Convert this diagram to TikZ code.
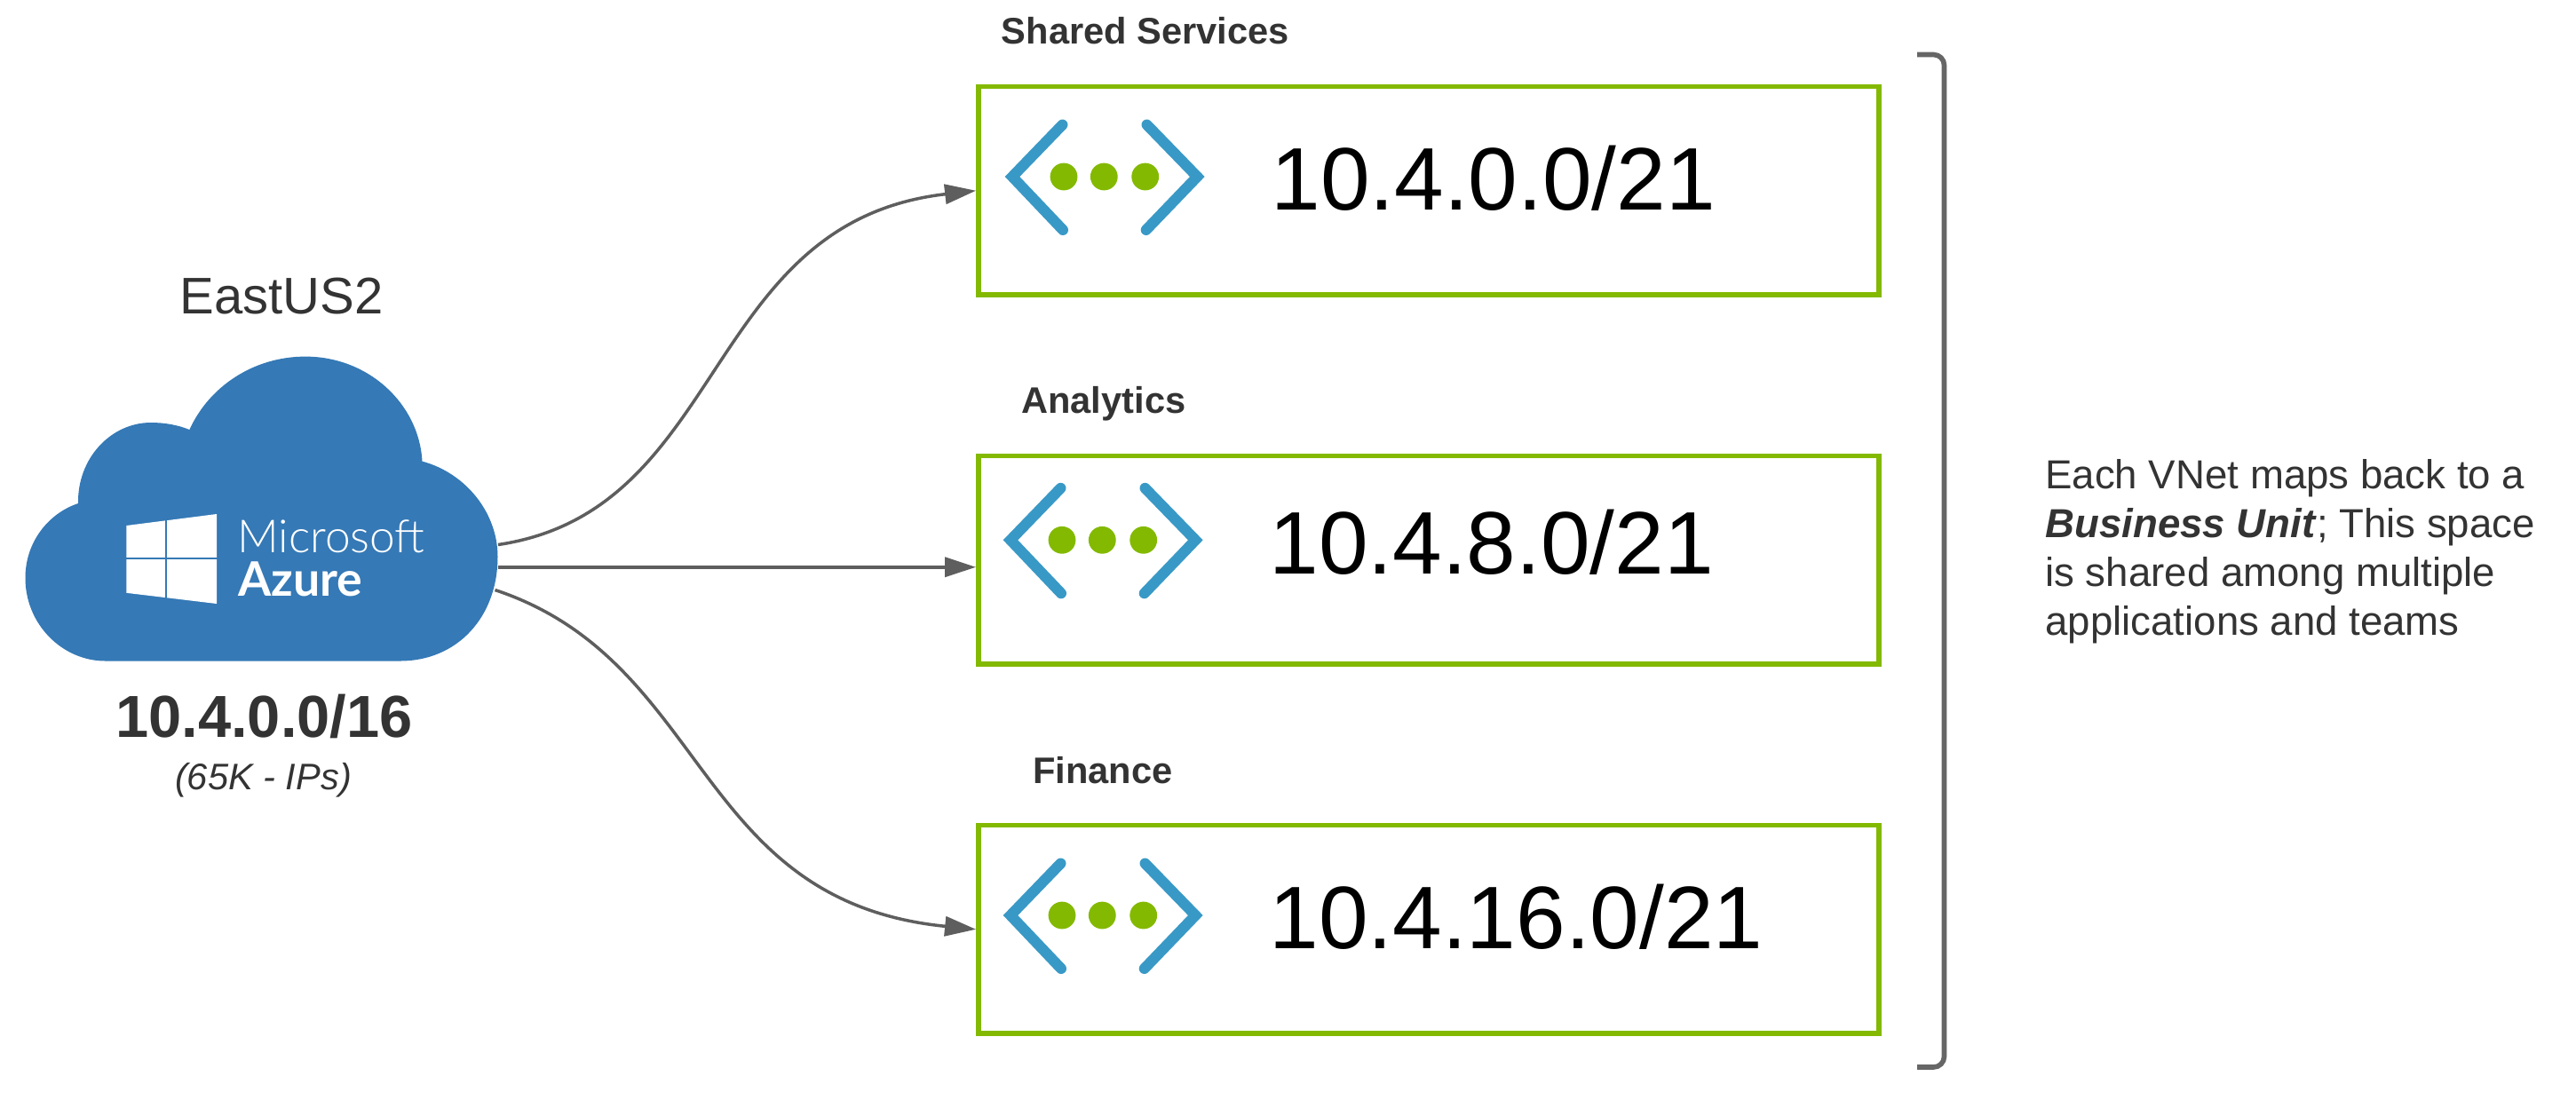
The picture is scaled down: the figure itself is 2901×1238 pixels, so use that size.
\documentclass[tikz,border=0pt]{standalone}
\usepackage{fontspec}
\setmainfont{Liberation Sans}
\newfontfamily\azurefont{Lato}
\newfontfamily\azurelight{Lato Light}
\usetikzlibrary{arrows.meta}
\definecolor{vnetgreen}{HTML}{83B900}
\definecolor{vnetblue}{HTML}{3999C6}
\definecolor{cloudblue}{HTML}{3579B6}
\definecolor{inkgray}{HTML}{333333}
\definecolor{linegray}{HTML}{5E5E5E}
\tikzset{
	vnetbox/.style={draw=vnetgreen, line width=2.75pt, minimum width=507pt, minimum height=117.25pt, inner sep=0pt},
	iptext/.style={anchor=base west, inner sep=0pt, font=\fontsize{50}{50}\selectfont},
	titletext/.style={anchor=base west, inner sep=0pt, text=inkgray, font=\fontsize{20.8}{20.8}\selectfont\bfseries},
	chevron/.style={draw=vnetblue, line width=6pt, line cap=round},
	link/.style={draw=linegray, line width=1.75pt, -{Triangle[length=17.5pt,width=11pt]}},
}
\begin{document}
\begin{tikzpicture}[x=0.5pt, y=-0.5pt]
	\useasboundingbox (0,0) rectangle (2901,1238);

	% cloud
	\fill[cloudblue] (118.6,744.5) -- (450.6,744.5) .. controls (515,744.5) and (560.5,695) .. (560.5,627)
		.. controls (560.5,578) and (525,533) .. (475.5,519.6)
		.. controls (472,455) and (415,401.6) .. (344,401.6)
		.. controls (285,401.6) and (235,436) .. (213.4,484)
		.. controls (200,478.5) and (185,476) .. (170,476)
		.. controls (125,476) and (87,516) .. (88,567)
		.. controls (55,578) and (28.5,610) .. (28.5,651)
		.. controls (28.5,703) and (70,744.5) .. (118.6,744.5) -- cycle;
	\fill[white] (142.3,592) -- (244,579) -- (244,680) -- (142.3,667.8) -- cycle;
	\draw[cloudblue, line width=1.2pt] (187,580) -- (187,680);
	\draw[cloudblue, line width=1.2pt] (140,629) -- (246,629);
	\node[anchor=base west, inner sep=0pt, text=white] (msname) at (267,622) {\azurelight\fontsize{25.7}{26}\selectfont Microsoft};
	\node[anchor=base west, inner sep=0pt, text=white] (azname) at (268,671) {\azurefont\fontsize{26.8}{26}\selectfont\bfseries Azure};

	\node[anchor=base, inner sep=0pt, text=inkgray, font=\fontsize{29}{29}\selectfont] (region) at (317,353.5) {EastUS2};
	\node[anchor=base, inner sep=0pt, text=inkgray, font=\fontsize{33.4}{33.4}\selectfont\bfseries] (supernet) at (297.5,830) {10.4.0.0/16};
	\node[anchor=base, inner sep=0pt, text=inkgray, font=\fontsize{20.8}{20.8}\selectfont\itshape] (ipcount) at (296.5,889.5) {(65K - IPs)};

	% one box per vnet
	\foreach \name/\y/\title/\tx/\ty/\ip/\ipy/\dx/\cy in {
		A/214.75/Shared Services/1127.5/49/10.4.0.0\slash 21/236.7/2/199,
		B/630.75/Analytics/1150/465/10.4.8.0\slash 21/646.7/0/608.3,
		C/1046.75/Finance/1163/882/10.4.16.0\slash 21/1068.7/0/1031}{
		\node[vnetbox] (vnet\name) at (1608.8,\y) {};
		\node[titletext] (title\name) at (\tx,\ty) {\title};
		\node[iptext] (ip\name) at (1429+\dx,\ipy) {\ip};
		\draw[chevron] (1194.5+\dx,\cy-58.5) -- (1138+\dx,\cy) -- (1195+\dx,\cy+60);
		\draw[chevron] (1289.5+\dx,\cy-58.5) -- (1346.3+\dx,\cy) -- (1288.7+\dx,\cy+60);
		\foreach \px in {1196, 1241.3, 1287.7}{
			\fill[vnetgreen] (\px+\dx,\cy) circle (7.7pt);
		}
	}

	% links from the cloud
	\coordinate (cloudA) at (561,613.5);
	\coordinate (cloudB) at (561,638.75);
	\coordinate (cloudC) at (557.5,664.5);
	\draw[link] (cloudA) .. controls (820,575) and (790,250) .. (vnetA.west);
	\draw[link] (cloudB) -- ([yshift=-4pt]vnetB.west);
	\draw[link] (cloudC) .. controls (800,745) and (780,1015) .. (vnetC.west);

	% bracket and note
	\draw[draw=linegray!95, line width=2.8pt, rounded corners=6pt] (2159,61.5) -- (2189.5,61.5) -- (2189.5,1202) -- (2159,1202);
	\node[anchor=base west, inner sep=0pt, align=left, text=inkgray, font=\fontsize{22.8}{27.5}\selectfont] (note) at (2303,715) {Each VNet maps back to a\\\textbf{\textit{Business Unit}}; This space\\is shared among multiple\\applications and teams};
\end{tikzpicture}
\end{document}
